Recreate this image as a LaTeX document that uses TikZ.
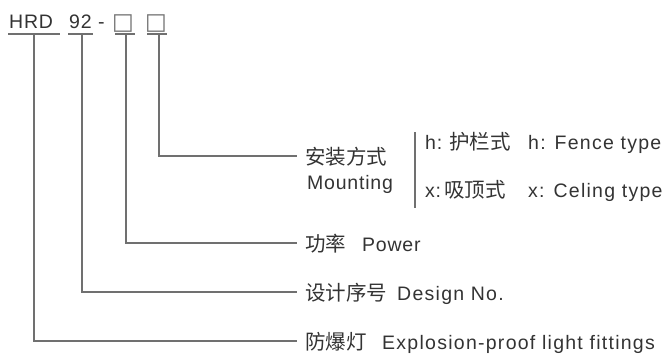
\documentclass[tikz,border=0pt]{standalone}
\usepackage{fontspec}
\setmainfont{Liberation Sans}
\newfontfamily\lat[LetterSpace=4]{Liberation Sans}
\newfontfamily\latw[LetterSpace=6.5]{Liberation Sans}
\newfontfamily\cjk{Noto Sans CJK SC}
\newfontfamily\sym{DejaVu Sans}
\definecolor{txt}{HTML}{333333}
\definecolor{ln}{HTML}{707070}
\begin{document}
\begin{tikzpicture}[x=1pt,y=-1pt,
  lbl/.style={anchor=base west,inner sep=0pt,text=txt,font=\fontsize{19.5}{19.5}\selectfont\lat},
  lblw/.style={lbl,font=\fontsize{19.5}{19.5}\selectfont\latw},
  zh/.style={anchor=base west,inner sep=0pt,text=txt,font=\fontsize{20.5}{20.5}\selectfont\cjk},
  bx/.style={anchor=base west,inner sep=0pt,text=ln,font=\fontsize{23}{23}\selectfont\sym},
  wire/.style={draw=ln,line width=1.1pt}]
\useasboundingbox (0,0) rectangle (666,357);
% top code
\node[lbl] (hrd) at (9,28) {HRD};
\node[lbl] (n92) at (69,28) {92};
\node[lbl] (dash) at (98,28) {-};
\node[bx] (b1) at (112,29) {□};
\node[bx] (b2) at (145,29) {□};
% underlines
\coordinate (u1a) at (8,34);   \coordinate (u1b) at (60,34);
\coordinate (u2a) at (68,34);  \coordinate (u2b) at (93,34);
\coordinate (u3a) at (115,34); \coordinate (u3b) at (135,34);
\coordinate (u4a) at (147,34); \coordinate (u4b) at (167,34);
\draw[wire] (u1a) -- (u1b);
\draw[wire] (u2a) -- (u2b);
\draw[wire] (u3a) -- (u3b);
\draw[wire] (u4a) -- (u4b);
\coordinate (s1) at (34,34);  \coordinate (e1) at (297,341);
\coordinate (s2) at (82,34);  \coordinate (e2) at (297,292);
\coordinate (s3) at (126,34); \coordinate (e3) at (297,243);
\coordinate (s4) at (159,34); \coordinate (e4) at (297,156);
\draw[wire] (s1) |- (e1);
\draw[wire] (s2) |- (e2);
\draw[wire] (s3) |- (e3);
\draw[wire] (s4) |- (e4);
% labels
\node[zh] (mzh) at (305,164) {安装方式};
\node[lbl] (men) at (307,189) {Mounting};
\coordinate (bt) at (415,132); \coordinate (bb) at (415,208);
\draw[wire] (bt) -- (bb);
\node[lbl] (hk) at (425,149) {h:};
\node[zh] (hzh) at (449,149) {护栏式};
\node[lblw] (hen) at (528,149) {h: Fence type};
\node[lbl] (xk) at (425,197) {x:};
\node[zh] (xzh) at (444,197) {吸顶式};
\node[lblw] (xen) at (528,197) {x: Celing type};
\node[zh] (pzh) at (305,251) {功率};
\node[lbl] (pen) at (362,251) {Power};
\node[zh] (dzh) at (305,300) {设计序号};
\node[lblw] (den) at (397,300) {Design No.};
\node[zh] (fzh) at (305,349) {防爆灯};
\node[lblw] (fen) at (382,349) {Explosion-proof light fittings};
\end{tikzpicture}
\end{document}
